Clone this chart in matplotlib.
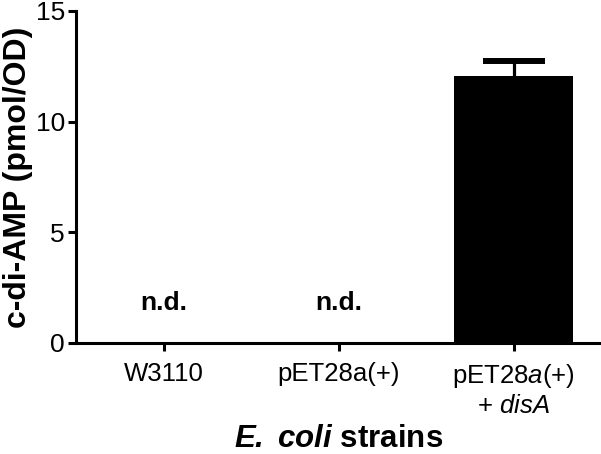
import matplotlib
matplotlib.use("Agg")
import matplotlib.pyplot as plt

categories = ["W3110", "pET28a(+)", "pET28a(+)\n+ disA"]
values = [0.0, 0.0, 12.08]
errors = [0.0, 0.0, 0.66]
nd_labels = ["n.d.", "n.d.", ""]
nd_y = 1.8
yticks = [0, 5, 10, 15]

plt.rcParams['font.family'] = ['Liberation Sans', 'DejaVu Sans']
plt.rcParams['mathtext.fontset'] = 'custom'
plt.rcParams['mathtext.rm'] = 'Liberation Sans'
plt.rcParams['mathtext.it'] = 'Liberation Sans:italic'
plt.rcParams['mathtext.bf'] = 'Liberation Sans:bold'
plt.rcParams['mathtext.bfit'] = 'Liberation Sans:bold:italic'

fig = plt.figure(figsize=(6.01, 4.54), dpi=100)
ax = fig.add_axes([76/601, 1 - 343/454, (601-76)/601, (343-11)/454])

x = list(range(len(categories)))
ax.bar(x, values, width=0.68, color='black', zorder=2)
for xi, v, e in zip(x, values, errors):
    if e > 0:
        ax.errorbar(xi, v, yerr=[[0], [e]], color='black', capsize=0, elinewidth=2.3, zorder=3)
        ax.plot([xi], [v + e], marker='_', markersize=44, markeredgewidth=4.3,
                color='black', solid_capstyle='round', zorder=3)
for xi, t in zip(x, nd_labels):
    if t:
        ax.text(xi, nd_y, t, ha='center', va='center', fontsize=19, fontweight='bold')

ax.set_xlim(-0.5, 2.5)
ax.set_ylim(0, 15)
ax.set_yticks(yticks)
ax.set_yticklabels([str(t) for t in yticks], fontsize=19)
ax.set_xticks(x)
ax.set_xticklabels(["W3110", "pET28a(+)", "pET28$\\mathit{a}$(+)\n+ $\\mathit{disA}$"], fontsize=18.5)
for s in ['top', 'right']:
    ax.spines[s].set_visible(False)
for s in ['left', 'bottom']:
    ax.spines[s].set_linewidth(2.2)
ax.tick_params(axis='both', width=2.2, length=6, direction='out')
ax.tick_params(axis='x', pad=8)
ax.tick_params(axis='y', pad=2)
ax.set_ylabel("c-di-AMP (pmol/OD)", fontsize=23, fontweight='bold', labelpad=2)
ax.set_xlabel("$\\mathbfit{E.}$ $\\mathbfit{coli}$ strains", fontsize=22.5, fontweight='bold', labelpad=4)

fig.savefig("out.png", dpi=100)
